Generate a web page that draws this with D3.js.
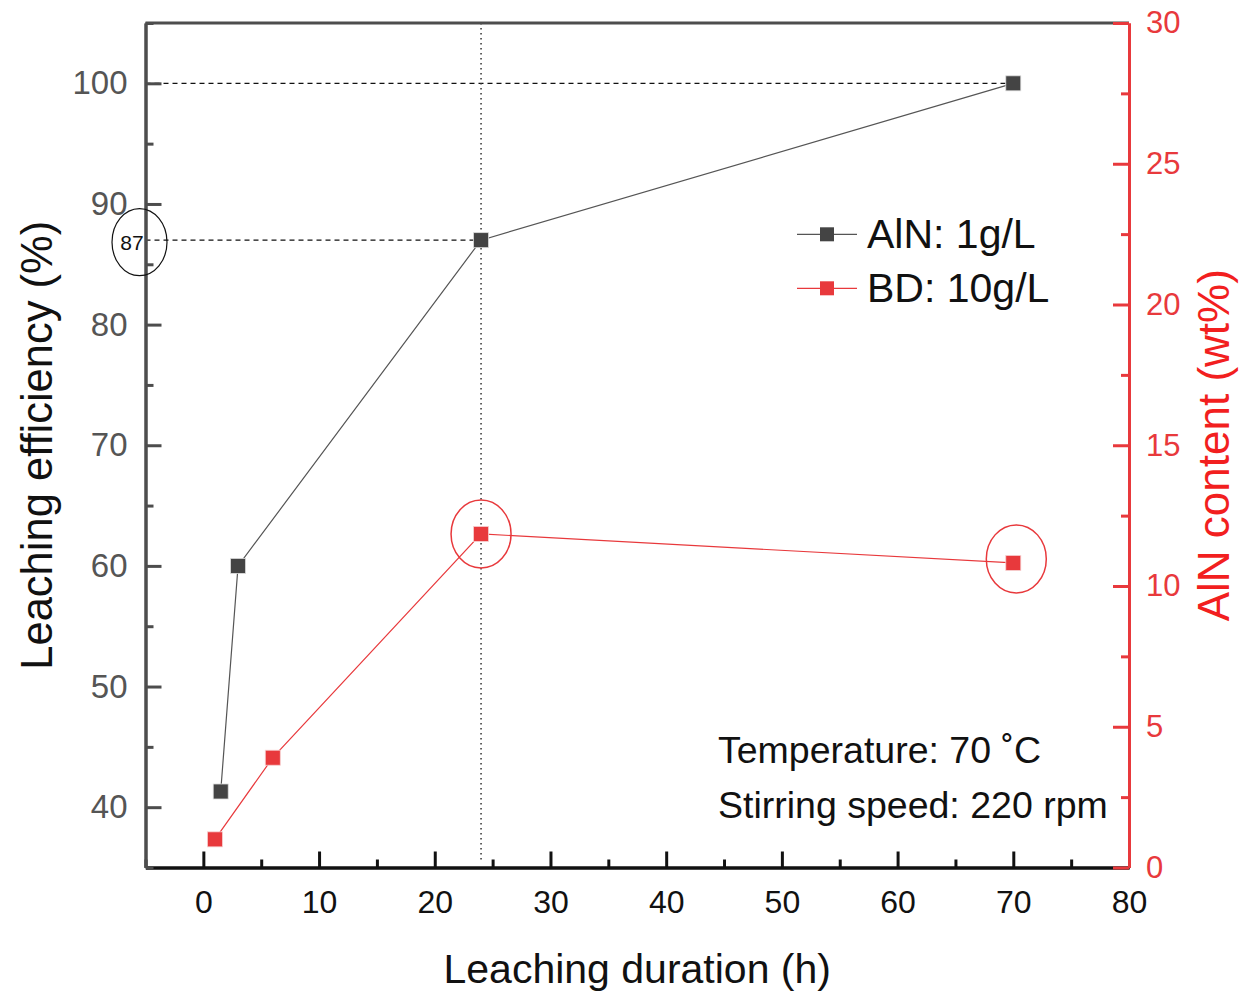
<!DOCTYPE html>
<html>
<head>
<meta charset="utf-8">
<script src="https://cdn.jsdelivr.net/npm/d3@7"></script>
<style>
  html, body { margin: 0; padding: 0; background: #fff; }
  svg { display: block; font-family: "Liberation Sans", Arial, Helvetica, sans-serif; }
</style>
</head>
<body>
<svg id="chart" width="1240" height="994"></svg>
<script>
// Leaching efficiency of AlN (left axis) and AlN content of BD (right axis) vs time
const durationAlN = [1.5, 3, 24, 70];
const efficiencyAlN = [41.3, 60, 87, 100];
const durationBD = [1, 6, 24, 70];
const contentBD = [1.0, 3.9, 11.85, 10.82];

const xTicks = [0, 10, 20, 30, 40, 50, 60, 70, 80];
const leftTicks = [40, 50, 60, 70, 80, 90, 100];
const rightTicks = [0, 5, 10, 15, 20, 25, 30];

const legendLabels = ["AlN: 1g/L", "BD: 10g/L"];
const conditionLines = ["Temperature: 70 \u02DAC", "Stirring speed: 220 rpm"];
const markedEfficiency = 87;
const markedDuration = 24;

const BLACK = "#444444";
const RED = "#e8393c";
const GRAY_AXIS = "#4d4d4d";

const box = { left: 145.5, right: 1129, top: 23, bottom: 867.5 };

const svg = d3.select("#chart");

const x = d3.scaleLinear().domain([-5, 80]).range([box.left, box.right]);
const yL = d3.scaleLinear().domain([35, 105]).range([box.bottom, box.top]);
const yR = d3.scaleLinear().domain([0, 30]).range([box.bottom, box.top]);

// reference lines
const gRef = svg.append("g");
gRef.append("line")
  .attr("x1", box.left).attr("x2", x(durationAlN[3]))
  .attr("y1", yL(efficiencyAlN[3])).attr("y2", yL(efficiencyAlN[3]))
  .attr("stroke", "#111").attr("stroke-width", 1.2).attr("stroke-dasharray", "5,4");
gRef.append("line")
  .attr("x1", box.left).attr("x2", x(markedDuration))
  .attr("y1", yL(markedEfficiency)).attr("y2", yL(markedEfficiency))
  .attr("stroke", "#111").attr("stroke-width", 1.2).attr("stroke-dasharray", "5,4");
gRef.append("line")
  .attr("x1", x(markedDuration)).attr("x2", x(markedDuration))
  .attr("y1", box.top).attr("y2", box.bottom - 6)
  .attr("stroke", "#333").attr("stroke-width", 1.5).attr("stroke-dasharray", "1.5,3.5");

// top border
svg.append("line")
  .attr("x1", box.left).attr("x2", box.right)
  .attr("y1", box.top).attr("y2", box.top)
  .attr("stroke", GRAY_AXIS).attr("stroke-width", 3);

// axes with inward ticks
function styleAxis(g, color) {
  g.select(".domain").attr("stroke", color).attr("stroke-width", 3);
  g.selectAll(".tick line").attr("stroke", color).attr("stroke-width", 3);
}
const gx = svg.append("g").attr("transform", `translate(0,${box.bottom})`);
gx.call(d3.axisBottom(x).tickValues(d3.range(-5, 80, 5).filter(v => v % 10 !== 0)).tickSize(-8).tickSizeOuter(0).tickFormat(""));
const gx2 = svg.append("g").attr("transform", `translate(0,${box.bottom})`);
gx2.call(d3.axisBottom(x).tickValues(xTicks).tickSize(-16).tickSizeOuter(0).tickPadding(23));
styleAxis(gx, "#111"); styleAxis(gx2, "#111");
gx2.selectAll(".tick text").attr("font-size", 32).attr("fill", "#111").attr("font-family", "Liberation Sans, Arial, sans-serif");

const gl = svg.append("g").attr("transform", `translate(${box.left},0)`);
gl.call(d3.axisLeft(yL).tickValues(d3.range(35, 106, 5).filter(v => v % 10 !== 0)).tickSize(-8).tickSizeOuter(0).tickFormat(""));
const gl2 = svg.append("g").attr("transform", `translate(${box.left},0)`);
gl2.call(d3.axisLeft(yL).tickValues(leftTicks).tickSize(-16).tickSizeOuter(0).tickPadding(18));
styleAxis(gl, GRAY_AXIS); styleAxis(gl2, GRAY_AXIS);
gl2.selectAll(".tick text").attr("font-size", 33).attr("fill", "#555").attr("font-family", "Liberation Sans, Arial, sans-serif");

const gr = svg.append("g").attr("transform", `translate(${box.right},0)`);
gr.call(d3.axisRight(yR).tickValues(d3.range(2.5, 30, 5)).tickSize(-8).tickSizeOuter(0).tickFormat(""));
const gr2 = svg.append("g").attr("transform", `translate(${box.right},0)`);
gr2.call(d3.axisRight(yR).tickValues(rightTicks).tickSize(-16).tickSizeOuter(0).tickPadding(17));
styleAxis(gr, RED); styleAxis(gr2, RED);
gr2.selectAll(".tick text").attr("font-size", 31).attr("fill", RED).attr("font-family", "Liberation Sans, Arial, sans-serif");

// series lines
const alnPts = durationAlN.map((d, i) => [x(d), yL(efficiencyAlN[i])]);
const bdPts = durationBD.map((d, i) => [x(d), yR(contentBD[i])]);
svg.append("path").attr("d", d3.line()(alnPts)).attr("fill", "none").attr("stroke", "#555").attr("stroke-width", 1.2);
svg.append("path").attr("d", d3.line()(bdPts)).attr("fill", "none").attr("stroke", RED).attr("stroke-width", 1.2);

// markers
const S = 15;
svg.append("g").selectAll("rect").data(alnPts).join("rect")
  .attr("x", d => d[0] - S / 2).attr("y", d => d[1] - S / 2)
  .attr("width", S).attr("height", S).attr("fill", BLACK)
  .attr("stroke", "#ddd").attr("stroke-width", 0.8);
svg.append("g").selectAll("rect").data(bdPts).join("rect")
  .attr("x", d => d[0] - S / 2).attr("y", d => d[1] - S / 2)
  .attr("width", S).attr("height", S).attr("fill", RED)
  .attr("stroke", "#f7d0d0").attr("stroke-width", 0.8);

// highlight ellipses on BD points at 24 h and 70 h
[2, 3].forEach(i => {
  svg.append("ellipse")
    .attr("cx", x(durationBD[i]) + (i === 3 ? 3 : 0))
    .attr("cy", yR(contentBD[i]) + (i === 3 ? -4 : 0))
    .attr("rx", 30).attr("ry", 34)
    .attr("fill", "none").attr("stroke", RED).attr("stroke-width", 1.5);
});

// 87 marker on left axis
svg.append("ellipse")
  .attr("cx", 139.5).attr("cy", yL(markedEfficiency) + 2)
  .attr("rx", 27.5).attr("ry", 33.5)
  .attr("fill", "none").attr("stroke", "#111").attr("stroke-width", 1.2);
svg.append("text")
  .attr("x", 132).attr("y", yL(markedEfficiency) + 10)
  .attr("text-anchor", "middle").attr("font-size", 21).attr("fill", "#111")
  .text(String(markedEfficiency));

// legend
const legend = svg.append("g");
[[BLACK, "#555"], [RED, RED]].forEach((c, i) => {
  const ly = 234.3 + i * 54;
  legend.append("line").attr("x1", 797).attr("x2", 857).attr("y1", ly).attr("y2", ly)
    .attr("stroke", c[1]).attr("stroke-width", 1.2);
  legend.append("rect").attr("x", 827 - 7).attr("y", ly - 7).attr("width", 14).attr("height", 14)
    .attr("fill", c[0]);
  legend.append("text").attr("x", 867).attr("y", ly + 9 + 4.5)
    .attr("font-size", 41).attr("fill", "#111").text(legendLabels[i]);
});

// conditions
conditionLines.forEach((t, i) => {
  svg.append("text").attr("x", 718).attr("y", 763 + i * 54.5)
    .attr("font-size", 37.5).attr("fill", "#111").text(t);
});

// axis titles
svg.append("text").attr("x", (box.left + box.right) / 2).attr("y", 983)
  .attr("text-anchor", "middle").attr("font-size", 41).attr("fill", "#111")
  .text("Leaching duration (h)");
svg.append("text").attr("transform", `translate(52,${(box.top + box.bottom) / 2}) rotate(-90)`)
  .attr("text-anchor", "middle").attr("font-size", 43.5).attr("fill", "#111")
  .text("Leaching efficiency (%)");
svg.append("text").attr("transform", `translate(1229,${(box.top + box.bottom) / 2}) rotate(-90)`)
  .attr("text-anchor", "middle").attr("font-size", 44).attr("fill", "#f21f1f")
  .text("AlN content (wt%)");
</script>
</body>
</html>
